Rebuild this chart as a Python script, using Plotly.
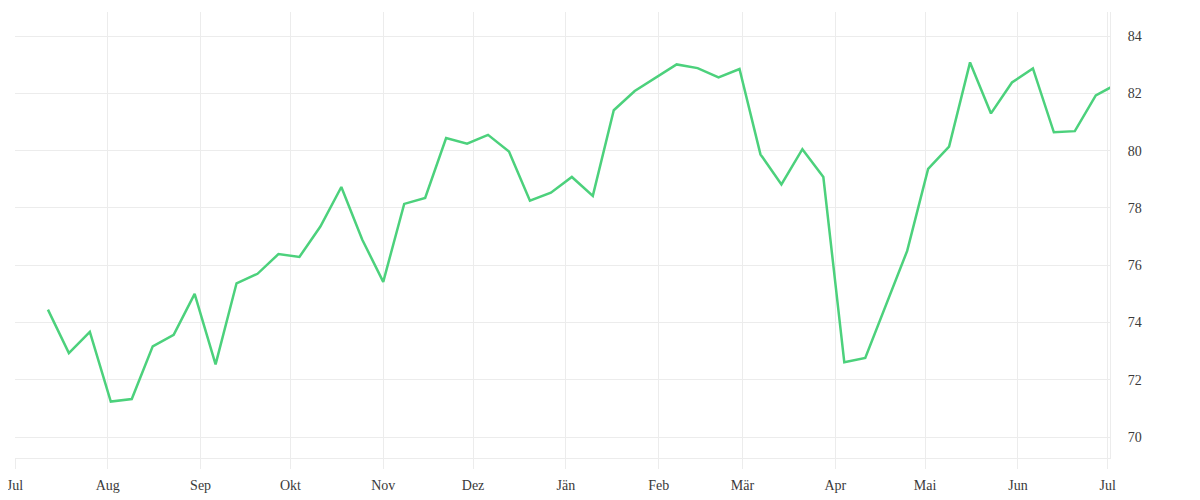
import pandas as pd
import plotly.graph_objects as go

# Weekly dates (first point 12 Jul 2022, then every 7 days)
dates = pd.date_range("2022-07-12", periods=52, freq="7D")

values = [
    74.45, 72.93, 73.67, 71.24, 71.33, 73.17, 73.57, 75.00, 72.54, 75.37,
    75.70, 76.39, 76.29, 77.35, 78.73, 76.89, 75.42, 78.14, 78.35, 80.44,
    80.24, 80.55, 79.97, 78.25, 78.53, 79.08, 78.42, 81.41, 82.08, 82.56,
    83.01, 82.88, 82.56, 82.85, 79.87, 78.82, 80.05, 79.08, 72.61, 72.76,
    74.62, 76.50, 79.36, 80.14, 83.08, 81.30, 82.38, 82.87, 80.64, 80.68,
    81.93, 82.32,
]

tick_dates = pd.date_range("2022-07-01", "2023-07-01", freq="MS")
tick_labels = ["Jul", "Aug", "Sep", "Okt", "Nov", "Dez", "Jän",
               "Feb", "Mär", "Apr", "Mai", "Jun", "Jul"]

y_ticks = [70, 72, 74, 76, 78, 80, 82, 84]

GRID = "#ececec"
TEXT = "#3a3a3a"
FONT = "Liberation Serif"

fig = go.Figure()
fig.add_trace(go.Scatter(
    x=dates, y=values, mode="lines",
    line=dict(color="#4cd17c", width=2.5),
    hoverinfo="x+y", showlegend=False,
))

fig.update_layout(
    width=1184, height=490,
    margin=dict(l=7, r=82, t=4, b=40, autoexpand=False),
    paper_bgcolor="white", plot_bgcolor="white",
    font=dict(family=FONT, size=14, color=TEXT),
    xaxis=dict(
        range=["2022-07-01", "2023-07-01 18:00"],
        tickmode="array", tickvals=tick_dates, ticktext=tick_labels,
        showgrid=True, gridcolor=GRID, gridwidth=1,
        ticks="outside", ticklen=10, tickcolor=GRID,
        showline=True, linecolor=GRID, linewidth=1,
        zeroline=False, automargin=False,
        ticklabeloverflow="allow", ticklabelstandoff=4,
        tickfont=dict(family=FONT, size=14, color=TEXT),
    ),
    yaxis=dict(
        side="right",
        range=[69.27, 84.84],
        tickmode="array", tickvals=y_ticks,
        showgrid=True, gridcolor=GRID, gridwidth=1,
        showline=True, linecolor=GRID, linewidth=1,
        ticks="", ticklabelstandoff=14,
        zeroline=False, automargin=False,
        tickfont=dict(family=FONT, size=14, color=TEXT),
    ),
)

fig.write_html("out.html")
